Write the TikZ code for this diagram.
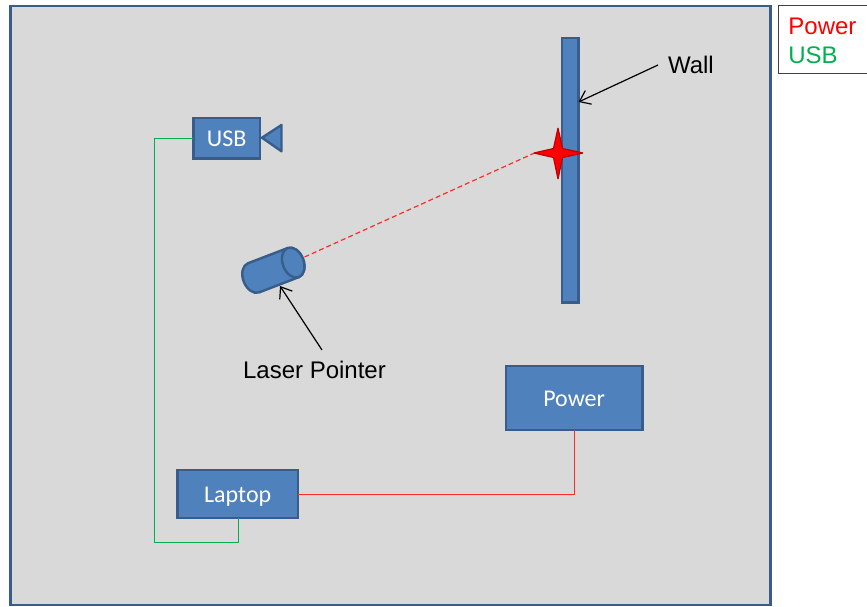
\documentclass[tikz,border=0pt]{standalone}
\usepackage{fontspec}
\setmainfont{Liberation Sans}
\newfontfamily\boxfont{Carlito}
\usetikzlibrary{arrows.meta}
\definecolor{boxfill}{HTML}{4F81BD}
\definecolor{boxline}{HTML}{385D8A}
\definecolor{panel}{HTML}{D9D9D9}
\definecolor{usbgreen}{HTML}{00B050}
\definecolor{wirered}{HTML}{FF2A2A}
\definecolor{starline}{HTML}{C00000}
\definecolor{legendline}{HTML}{404040}
\newcommand{\boxtext}[1]{\raisebox{-8.6pt}[0pt][0pt]{#1}}
\tikzset{
  x=1pt,y=-1pt,
  blockbox/.style={draw=boxline,fill=boxfill,line width=2.4pt,rectangle,inner sep=0pt,outer sep=0pt,text=white,font=\boxfont\fontsize{24}{28}\selectfont,anchor=north west},
  plainlabel/.style={font=\fontsize{24}{28}\selectfont,text=black,inner sep=0pt,outer sep=0pt},
  pointer/.style={draw=black,line width=1.2pt,-{Straight Barb[length=10pt,width=15pt,line width=1.2pt]}},
  redwire/.style={draw=wirered,line width=1.2pt},
  greenwire/.style={draw=usbgreen,line width=0.9pt},
  shapeline/.style={draw=boxline,fill=boxfill,line width=2.4pt,line join=round},
}
\begin{document}
\begin{tikzpicture}
\useasboundingbox (0,0) rectangle (867,606);
\node[draw=boxline,fill=panel,line width=2.4pt,rectangle,inner sep=0pt,outer sep=0pt,anchor=north west,minimum width=760.2pt,minimum height=599pt] (panel) at (10.3,5.8) {};
\node[draw=legendline,fill=white,line width=1pt,rectangle,inner sep=0pt,outer sep=0pt,anchor=north west,minimum width=100pt,minimum height=68pt] (legend) at (778.2,5.5) {};
\node[plainlabel,anchor=west,text=red] (legendpower) at (788.4,26) {Power};
\node[plainlabel,anchor=west,text=usbgreen] (legendusb) at (788.4,55) {USB};
% boxes
\node[blockbox,minimum width=66.7pt,minimum height=40.6pt] (usb) at (193.3,117.7) {\boxtext{USB}};
\node[blockbox,minimum width=120.6pt,minimum height=48.2pt] (laptop) at (177.4,470) {\boxtext{Laptop}};
\node[blockbox,minimum width=136.3pt,minimum height=64pt] (power) at (506,366) {\boxtext{Power}};
% wires
\coordinate (usbcorner) at (154,138);
\coordinate (lapcorner) at (154,542);
\coordinate (lapdrop) at (238,542);
\draw[greenwire] (usb.west) -- (usbcorner) -- (lapcorner) -- (lapdrop) -- (lapdrop |- laptop.south);
\draw[redwire] (laptop.east) -| (power.south);
% camera lens
\coordinate (lensA) at (262,137.7);
\coordinate (lensB) at (281.5,125);
\coordinate (lensC) at (281.5,151.3);
\draw[shapeline] (lensA) -- (lensB) -- (lensC) -- cycle;
% wall
\node[blockbox,minimum width=16.3pt,minimum height=264.6pt] (wall) at (562,37.7) {};
\coordinate (wallhit) at (578.5,102);
% laser pointer
\begin{scope}[shift={(293.2,262.6)},rotate=21]
\draw[shapeline] (0,-15.6) -- (-42.5,-15.6)
  arc[start angle=90,end angle=270,x radius=10.5pt,y radius=15.6pt]
  -- (0,15.6)
  arc[start angle=270,end angle=450,x radius=10.5pt,y radius=15.6pt] -- cycle;
\draw[shapeline] (0,0) ellipse[x radius=10.5pt,y radius=15.6pt];
\end{scope}
\coordinate (laserout) at (304.5,257);
\coordinate (laserhit) at (280,286);
% star
\coordinate (spot) at (558,153);
\coordinate (spotwest) at (534.5,153);
\draw[draw=wirered,line width=1.2pt,dash pattern=on 5pt off 3pt] (laserout) -- (spotwest);
\draw[draw=starline,fill=red,line width=1.2pt,line join=bevel,shift={(spot)}]
  (-24,0) -- (-4.5,-4.5) -- (0,-25) -- (4.5,-4.5) -- (25,0) -- (4.5,4.5) -- (0,26) -- (-4.5,4.5) -- cycle;
% labels
\node[plainlabel,anchor=west] (walllabel) at (668,65) {Wall};
\coordinate (wallstart) at (658,65);
\draw[pointer] (wallstart) -- (wallhit);
\node[plainlabel,anchor=center] (laserlabel) at (314.5,370) {Laser Pointer};
\coordinate (laserstart) at (322,350);
\draw[pointer] (laserstart) -- (laserhit);
\end{tikzpicture}
\end{document}
